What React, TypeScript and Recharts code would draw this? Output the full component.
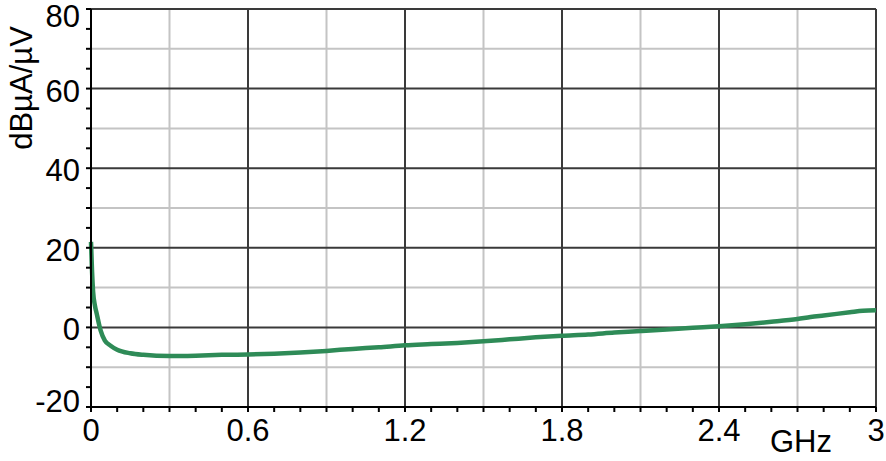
import React from "react";
import { LineChart, Line, XAxis, YAxis, ReferenceLine } from "recharts";

// frequency (GHz) and level (dBµA/µV)
const freqGHz = [
  0, 0.004, 0.008, 0.015, 0.022, 0.03, 0.037, 0.053, 0.075, 0.1, 0.15, 0.2,
  0.3, 0.4, 0.5, 0.6, 0.7, 0.8, 0.9, 1.0, 1.1, 1.2, 1.3, 1.4, 1.5, 1.6, 1.7,
  1.8, 1.9, 2.0, 2.1, 2.2, 2.3, 2.4, 2.5, 2.6, 2.7, 2.75, 2.8, 2.9, 2.95, 3.0,
];
const level = [
  21.5, 14, 9, 5.5, 3.4, 1, -0.8, -3.3, -4.6, -5.6, -6.5, -6.9,
  -7.2, -7.1, -6.9, -6.8, -6.6, -6.3, -5.9, -5.4, -5.0, -4.5, -4.2, -3.9, -3.5, -3.0, -2.5,
  -2.1, -1.8, -1.3, -0.9, -0.5, -0.1, 0.3, 0.8, 1.4, 2.1, 2.6, 3.0, 3.8, 4.2, 4.3,
];

const xTicks = [
  0, 0.1, 0.2, 0.3, 0.4, 0.5, 0.6, 0.7, 0.8, 0.9, 1.0, 1.1, 1.2, 1.3, 1.4, 1.5,
  1.6, 1.7, 1.8, 1.9, 2.0, 2.1, 2.2, 2.3, 2.4, 2.5, 2.6, 2.7, 2.8, 2.9, 3.0,
];
const xLabels = [0, 0.6, 1.2, 1.8, 2.4, 3];
const yTicks = [-20, -15, -10, -5, 0, 5, 10, 15, 20, 25, 30, 35, 40, 45, 50, 55, 60, 65, 70, 75, 80];
const yLabels = [-20, 0, 20, 40, 60, 80];

const xGridLight = [0.3, 0.9, 1.5, 2.1, 2.7];
const xGridDark = [0.6, 1.2, 1.8, 2.4, 3];
const yGridLight = [-10, 10, 30, 50, 70];
const yGridDark = [0, 20, 40, 60, 80];

const data = freqGHz.map((f, i) => ({ f, v: level[i] }));

const FONT = "'Liberation Sans', Arial, sans-serif";
const DARK = "#3a3a3a";
const LIGHT = "#c4c4c4";

const isIn = (arr: number[], v: number) => arr.some((a) => Math.abs(a - v) < 1e-6);

function XTick({ x, y, payload }: any) {
  if (!isIn(xLabels, payload.value)) return null;
  return (
    <text x={x} y={y + 27} textAnchor="middle" fontSize={31} fontFamily={FONT} fill="#000">
      {String(payload.value)}
    </text>
  );
}

function YTick({ x, y, payload }: any) {
  if (!isIn(yLabels, payload.value)) return null;
  const base = Math.min(Math.max(y + 13, 27), 412);
  return (
    <text x={x - 4} y={base} textAnchor="end" fontSize={31} fontFamily={FONT} fill="#000">
      {String(payload.value)}
    </text>
  );
}

function YTitle() {
  return (
    <text
      x={32}
      y={88}
      transform="rotate(-90 32 88)"
      textAnchor="middle"
      fontSize={31}
      fontFamily={FONT}
      fill="#000"
    >
      dBµA/µV
    </text>
  );
}

function XTitle() {
  return (
    <text x={801} y={452} textAnchor="middle" fontSize={31} fontFamily={FONT} fill="#000">
      GHz
    </text>
  );
}

export default function App() {
  return (
    <div style={{ position: "absolute", left: 0, top: 0, width: 886, height: 461, background: "#fff" }}>
      <LineChart width={886} height={461} data={data} margin={{ top: 9, right: 10, bottom: 0, left: 0 }}>
        {xGridLight.map((v) => (
          <ReferenceLine key={`xl${v}`} x={v} stroke={LIGHT} strokeWidth={2} />
        ))}
        {yGridLight.map((v) => (
          <ReferenceLine key={`yl${v}`} y={v} stroke={LIGHT} strokeWidth={2} />
        ))}
        {xGridDark.map((v) => (
          <ReferenceLine key={`xd${v}`} x={v} stroke={DARK} strokeWidth={2} />
        ))}
        {yGridDark.map((v) => (
          <ReferenceLine key={`yd${v}`} y={v} stroke={DARK} strokeWidth={2} />
        ))}
        <XAxis
          dataKey="f"
          type="number"
          domain={[0, 3]}
          ticks={xTicks}
          interval={0}
          height={54}
          axisLine={{ stroke: "#000", strokeWidth: 2 }}
          tickLine={{ stroke: "#000", strokeWidth: 2 }}
          tickSize={5}
          tick={<XTick />}
          label={<XTitle />}
        />
        <YAxis
          type="number"
          domain={[-20, 80]}
          ticks={yTicks}
          interval={0}
          width={91}
          axisLine={{ stroke: "#000", strokeWidth: 2 }}
          tickLine={{ stroke: "#000", strokeWidth: 2 }}
          tickSize={5}
          tick={<YTick />}
          label={<YTitle />}
        />
        <Line
          type="monotone"
          dataKey="v"
          stroke="#2e8b57"
          strokeWidth={4.5}
          dot={false}
          isAnimationActive={false}
        />
      </LineChart>
    </div>
  );
}
